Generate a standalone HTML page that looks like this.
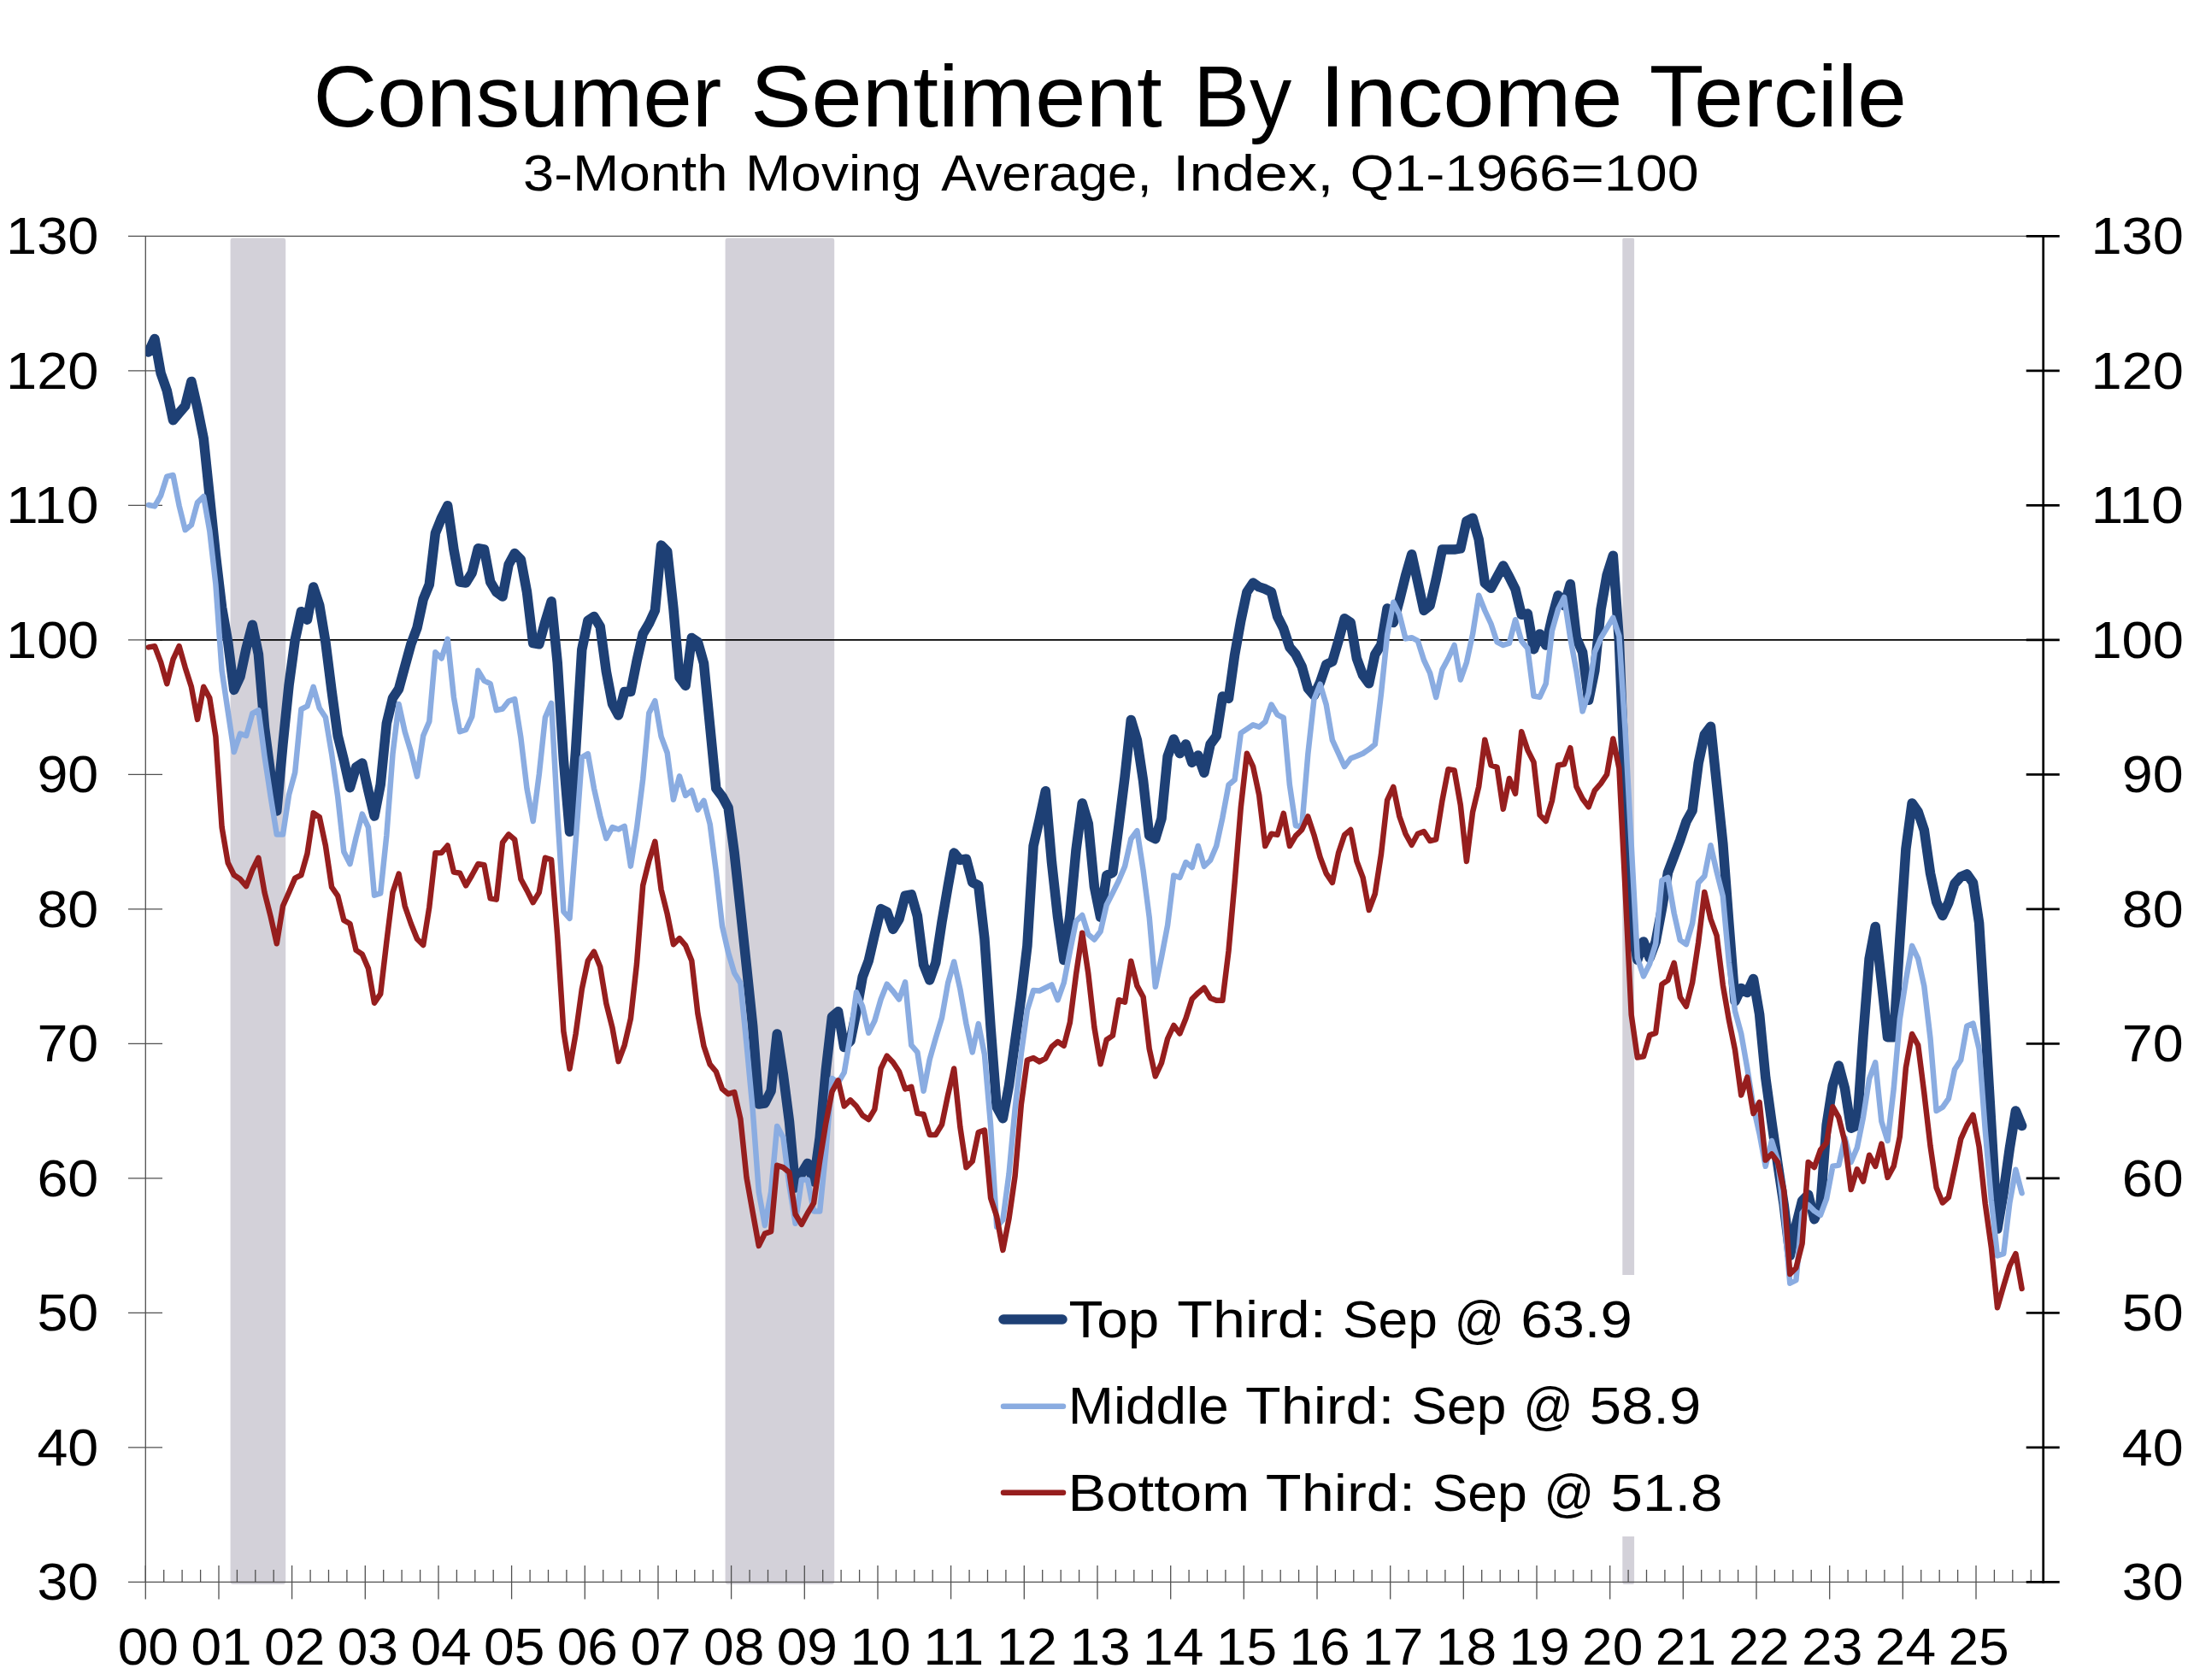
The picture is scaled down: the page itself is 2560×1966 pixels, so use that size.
<!DOCTYPE html><html><head><meta charset="utf-8"><title>Consumer Sentiment By Income Tercile</title><style>html,body{margin:0;padding:0;background:#fff}svg{display:block}text{font-family:"Liberation Sans",sans-serif;fill:#000}</style></head><body>
<svg width="2560" height="1966" viewBox="0 0 2560 1966">
<rect width="2560" height="1966" fill="#fff"/>
<rect x="269.6" y="278.5" width="64.6" height="1575.5" rx="3" fill="#d3d1d9"/>
<rect x="848.6" y="278.5" width="127.6" height="1575.5" rx="3" fill="#d3d1d9"/>
<rect x="1898.3" y="278.5" width="13.8" height="1575.5" rx="2" fill="#d3d1d9"/>
<g stroke="#505050" stroke-width="1.3" fill="none">
<line x1="150" y1="276.4" x2="2372" y2="276.4"/>
<line x1="170.3" y1="276.4" x2="170.3" y2="1851.4"/>
<line x1="150" y1="1851.4" x2="2390.7" y2="1851.4"/>
<line x1="150" y1="1693.9" x2="190" y2="1693.9"/>
<line x1="150" y1="1536.4" x2="190" y2="1536.4"/>
<line x1="150" y1="1378.9" x2="190" y2="1378.9"/>
<line x1="150" y1="1221.4" x2="190" y2="1221.4"/>
<line x1="150" y1="1063.9" x2="190" y2="1063.9"/>
<line x1="150" y1="906.4" x2="190" y2="906.4"/>
<line x1="150" y1="748.9" x2="190" y2="748.9"/>
<line x1="150" y1="591.4" x2="190" y2="591.4"/>
<line x1="150" y1="433.9" x2="190" y2="433.9"/>
<line x1="170.3" y1="1831.9" x2="170.3" y2="1871.4"/>
<line x1="191.7" y1="1836.9" x2="191.7" y2="1851.4"/>
<line x1="213.1" y1="1836.9" x2="213.1" y2="1851.4"/>
<line x1="234.6" y1="1836.9" x2="234.6" y2="1851.4"/>
<line x1="256.0" y1="1831.9" x2="256.0" y2="1871.4"/>
<line x1="277.4" y1="1836.9" x2="277.4" y2="1851.4"/>
<line x1="298.8" y1="1836.9" x2="298.8" y2="1851.4"/>
<line x1="320.2" y1="1836.9" x2="320.2" y2="1851.4"/>
<line x1="341.6" y1="1831.9" x2="341.6" y2="1871.4"/>
<line x1="363.1" y1="1836.9" x2="363.1" y2="1851.4"/>
<line x1="384.5" y1="1836.9" x2="384.5" y2="1851.4"/>
<line x1="405.9" y1="1836.9" x2="405.9" y2="1851.4"/>
<line x1="427.3" y1="1831.9" x2="427.3" y2="1871.4"/>
<line x1="448.7" y1="1836.9" x2="448.7" y2="1851.4"/>
<line x1="470.1" y1="1836.9" x2="470.1" y2="1851.4"/>
<line x1="491.6" y1="1836.9" x2="491.6" y2="1851.4"/>
<line x1="513.0" y1="1831.9" x2="513.0" y2="1871.4"/>
<line x1="534.4" y1="1836.9" x2="534.4" y2="1851.4"/>
<line x1="555.8" y1="1836.9" x2="555.8" y2="1851.4"/>
<line x1="577.2" y1="1836.9" x2="577.2" y2="1851.4"/>
<line x1="598.6" y1="1831.9" x2="598.6" y2="1871.4"/>
<line x1="620.1" y1="1836.9" x2="620.1" y2="1851.4"/>
<line x1="641.5" y1="1836.9" x2="641.5" y2="1851.4"/>
<line x1="662.9" y1="1836.9" x2="662.9" y2="1851.4"/>
<line x1="684.3" y1="1831.9" x2="684.3" y2="1871.4"/>
<line x1="705.7" y1="1836.9" x2="705.7" y2="1851.4"/>
<line x1="727.1" y1="1836.9" x2="727.1" y2="1851.4"/>
<line x1="748.6" y1="1836.9" x2="748.6" y2="1851.4"/>
<line x1="770.0" y1="1831.9" x2="770.0" y2="1871.4"/>
<line x1="791.4" y1="1836.9" x2="791.4" y2="1851.4"/>
<line x1="812.8" y1="1836.9" x2="812.8" y2="1851.4"/>
<line x1="834.2" y1="1836.9" x2="834.2" y2="1851.4"/>
<line x1="855.6" y1="1831.9" x2="855.6" y2="1871.4"/>
<line x1="877.1" y1="1836.9" x2="877.1" y2="1851.4"/>
<line x1="898.5" y1="1836.9" x2="898.5" y2="1851.4"/>
<line x1="919.9" y1="1836.9" x2="919.9" y2="1851.4"/>
<line x1="941.3" y1="1831.9" x2="941.3" y2="1871.4"/>
<line x1="962.7" y1="1836.9" x2="962.7" y2="1851.4"/>
<line x1="984.1" y1="1836.9" x2="984.1" y2="1851.4"/>
<line x1="1005.6" y1="1836.9" x2="1005.6" y2="1851.4"/>
<line x1="1027.0" y1="1831.9" x2="1027.0" y2="1871.4"/>
<line x1="1048.4" y1="1836.9" x2="1048.4" y2="1851.4"/>
<line x1="1069.8" y1="1836.9" x2="1069.8" y2="1851.4"/>
<line x1="1091.2" y1="1836.9" x2="1091.2" y2="1851.4"/>
<line x1="1112.6" y1="1831.9" x2="1112.6" y2="1871.4"/>
<line x1="1134.1" y1="1836.9" x2="1134.1" y2="1851.4"/>
<line x1="1155.5" y1="1836.9" x2="1155.5" y2="1851.4"/>
<line x1="1176.9" y1="1836.9" x2="1176.9" y2="1851.4"/>
<line x1="1198.3" y1="1831.9" x2="1198.3" y2="1871.4"/>
<line x1="1219.7" y1="1836.9" x2="1219.7" y2="1851.4"/>
<line x1="1241.2" y1="1836.9" x2="1241.2" y2="1851.4"/>
<line x1="1262.6" y1="1836.9" x2="1262.6" y2="1851.4"/>
<line x1="1284.0" y1="1831.9" x2="1284.0" y2="1871.4"/>
<line x1="1305.4" y1="1836.9" x2="1305.4" y2="1851.4"/>
<line x1="1326.8" y1="1836.9" x2="1326.8" y2="1851.4"/>
<line x1="1348.2" y1="1836.9" x2="1348.2" y2="1851.4"/>
<line x1="1369.7" y1="1831.9" x2="1369.7" y2="1871.4"/>
<line x1="1391.1" y1="1836.9" x2="1391.1" y2="1851.4"/>
<line x1="1412.5" y1="1836.9" x2="1412.5" y2="1851.4"/>
<line x1="1433.9" y1="1836.9" x2="1433.9" y2="1851.4"/>
<line x1="1455.3" y1="1831.9" x2="1455.3" y2="1871.4"/>
<line x1="1476.7" y1="1836.9" x2="1476.7" y2="1851.4"/>
<line x1="1498.2" y1="1836.9" x2="1498.2" y2="1851.4"/>
<line x1="1519.6" y1="1836.9" x2="1519.6" y2="1851.4"/>
<line x1="1541.0" y1="1831.9" x2="1541.0" y2="1871.4"/>
<line x1="1562.4" y1="1836.9" x2="1562.4" y2="1851.4"/>
<line x1="1583.8" y1="1836.9" x2="1583.8" y2="1851.4"/>
<line x1="1605.2" y1="1836.9" x2="1605.2" y2="1851.4"/>
<line x1="1626.7" y1="1831.9" x2="1626.7" y2="1871.4"/>
<line x1="1648.1" y1="1836.9" x2="1648.1" y2="1851.4"/>
<line x1="1669.5" y1="1836.9" x2="1669.5" y2="1851.4"/>
<line x1="1690.9" y1="1836.9" x2="1690.9" y2="1851.4"/>
<line x1="1712.3" y1="1831.9" x2="1712.3" y2="1871.4"/>
<line x1="1733.7" y1="1836.9" x2="1733.7" y2="1851.4"/>
<line x1="1755.2" y1="1836.9" x2="1755.2" y2="1851.4"/>
<line x1="1776.6" y1="1836.9" x2="1776.6" y2="1851.4"/>
<line x1="1798.0" y1="1831.9" x2="1798.0" y2="1871.4"/>
<line x1="1819.4" y1="1836.9" x2="1819.4" y2="1851.4"/>
<line x1="1840.8" y1="1836.9" x2="1840.8" y2="1851.4"/>
<line x1="1862.2" y1="1836.9" x2="1862.2" y2="1851.4"/>
<line x1="1883.7" y1="1831.9" x2="1883.7" y2="1871.4"/>
<line x1="1905.1" y1="1836.9" x2="1905.1" y2="1851.4"/>
<line x1="1926.5" y1="1836.9" x2="1926.5" y2="1851.4"/>
<line x1="1947.9" y1="1836.9" x2="1947.9" y2="1851.4"/>
<line x1="1969.3" y1="1831.9" x2="1969.3" y2="1871.4"/>
<line x1="1990.7" y1="1836.9" x2="1990.7" y2="1851.4"/>
<line x1="2012.2" y1="1836.9" x2="2012.2" y2="1851.4"/>
<line x1="2033.6" y1="1836.9" x2="2033.6" y2="1851.4"/>
<line x1="2055.0" y1="1831.9" x2="2055.0" y2="1871.4"/>
<line x1="2076.4" y1="1836.9" x2="2076.4" y2="1851.4"/>
<line x1="2097.8" y1="1836.9" x2="2097.8" y2="1851.4"/>
<line x1="2119.2" y1="1836.9" x2="2119.2" y2="1851.4"/>
<line x1="2140.7" y1="1831.9" x2="2140.7" y2="1871.4"/>
<line x1="2162.1" y1="1836.9" x2="2162.1" y2="1851.4"/>
<line x1="2183.5" y1="1836.9" x2="2183.5" y2="1851.4"/>
<line x1="2204.9" y1="1836.9" x2="2204.9" y2="1851.4"/>
<line x1="2226.3" y1="1831.9" x2="2226.3" y2="1871.4"/>
<line x1="2247.7" y1="1836.9" x2="2247.7" y2="1851.4"/>
<line x1="2269.2" y1="1836.9" x2="2269.2" y2="1851.4"/>
<line x1="2290.6" y1="1836.9" x2="2290.6" y2="1851.4"/>
<line x1="2312.0" y1="1831.9" x2="2312.0" y2="1871.4"/>
<line x1="2333.4" y1="1836.9" x2="2333.4" y2="1851.4"/>
<line x1="2354.8" y1="1836.9" x2="2354.8" y2="1851.4"/>
<line x1="2376.3" y1="1836.9" x2="2376.3" y2="1851.4"/>
</g>
<line x1="170.3" y1="748.9" x2="2390.7" y2="748.9" stroke="#000" stroke-width="1.6"/>
<clipPath id="cp"><rect x="170.3" y="276.4" width="2220.3999999999996" height="1575.0"/></clipPath>
<g clip-path="url(#cp)" fill="none" stroke-linejoin="round" stroke-linecap="round">
<path d="M173.9 411.9 L181.0 396.4 L188.2 436.9 L195.3 457.1 L202.5 491.7 L209.6 483.3 L216.7 475.0 L223.9 446.4 L231.0 477.4 L238.2 513.1 L245.3 581.4 L252.4 650.0 L259.6 711.0 L266.7 751.4 L273.8 807.4 L281.0 791.9 L288.1 758.6 L295.3 731.2 L302.4 765.7 L309.5 851.4 L316.7 906.2 L323.8 949.0 L331.0 870.5 L338.1 801.4 L345.2 749.0 L352.4 715.7 L359.5 725.2 L366.7 687.0 L373.8 708.6 L380.9 751.4 L388.1 808.6 L395.2 861.0 L402.3 889.5 L409.5 921.7 L416.6 897.9 L423.8 893.1 L430.9 925.2 L438.0 955.0 L445.2 918.1 L452.3 846.7 L459.5 816.9 L466.6 806.2 L473.7 780.0 L480.9 753.8 L488.0 734.8 L495.2 701.4 L502.3 684.0 L509.4 623.8 L516.6 606.0 L523.7 591.7 L530.9 642.9 L538.0 681.0 L545.1 682.1 L552.3 670.2 L559.4 641.7 L566.5 642.9 L573.7 681.0 L580.8 692.9 L588.0 698.1 L595.1 660.7 L602.2 647.6 L609.4 654.8 L616.5 692.9 L623.7 752.6 L630.8 753.8 L637.9 727.6 L645.1 703.8 L652.2 775.2 L659.4 889.5 L666.5 973.3 L673.6 878.1 L680.8 760.2 L687.9 726.2 L695.0 721.4 L702.2 733.3 L709.3 785.7 L716.5 823.8 L723.6 836.9 L730.7 809.5 L737.9 809.5 L745.0 773.8 L752.2 741.7 L759.3 729.8 L766.4 714.3 L773.6 638.1 L780.7 645.2 L787.9 711.9 L795.0 792.9 L802.1 802.4 L809.3 746.4 L816.4 751.2 L823.5 776.2 L830.7 850.0 L837.8 922.6 L845.0 932.1 L852.1 945.2 L859.2 998.1 L866.4 1064.8 L873.5 1131.4 L880.7 1200.5 L887.8 1292.1 L894.9 1291.0 L902.1 1276.7 L909.2 1210.0 L916.4 1257.6 L923.5 1312.4 L930.6 1390.0 L937.8 1373.3 L944.9 1361.4 L952.1 1382.9 L959.2 1331.0 L966.3 1252.4 L973.5 1189.8 L980.6 1183.8 L987.7 1225.5 L994.9 1218.3 L1002.0 1183.8 L1009.2 1143.3 L1016.3 1124.3 L1023.4 1093.3 L1030.6 1063.6 L1037.7 1067.1 L1044.9 1087.4 L1052.0 1075.5 L1059.1 1048.1 L1066.3 1046.9 L1073.4 1071.9 L1080.6 1129.0 L1087.7 1146.9 L1094.8 1126.7 L1102.0 1079.0 L1109.1 1037.4 L1116.2 998.1 L1123.4 1006.4 L1130.5 1005.2 L1137.7 1032.6 L1144.8 1036.2 L1151.9 1098.1 L1159.1 1202.9 L1166.2 1295.6 L1173.4 1308.7 L1180.5 1270.5 L1187.6 1219.0 L1194.8 1166.7 L1201.9 1106.9 L1209.1 990.0 L1216.2 959.0 L1223.3 925.7 L1230.5 1009.0 L1237.6 1073.3 L1244.8 1123.6 L1251.9 1071.0 L1259.0 994.8 L1266.2 940.0 L1273.3 963.8 L1280.4 1037.6 L1287.6 1073.3 L1294.7 1024.5 L1301.9 1021.0 L1309.0 966.2 L1316.1 909.0 L1323.3 842.4 L1330.4 866.2 L1337.6 913.8 L1344.7 978.1 L1351.8 981.7 L1359.0 957.9 L1366.1 885.2 L1373.3 865.0 L1380.4 881.7 L1387.5 871.0 L1394.7 892.4 L1401.8 884.0 L1408.9 904.3 L1416.1 871.0 L1423.2 861.4 L1430.4 815.0 L1437.5 817.4 L1444.6 766.4 L1451.8 726.2 L1458.9 692.9 L1466.1 682.1 L1473.2 686.9 L1480.3 689.3 L1487.5 692.9 L1494.6 721.4 L1501.8 735.7 L1508.9 757.5 L1516.0 765.8 L1523.2 780.1 L1530.3 805.5 L1537.4 813.8 L1544.6 798.3 L1551.7 777.7 L1558.9 774.2 L1566.0 749.8 L1573.1 723.8 L1580.3 728.6 L1587.4 770.6 L1594.6 790.2 L1601.7 799.8 L1608.8 765.8 L1616.0 754.5 L1623.1 711.9 L1630.3 728.6 L1637.4 702.4 L1644.5 673.8 L1651.7 648.8 L1658.8 681.0 L1666.0 714.4 L1673.1 708.5 L1680.2 678.1 L1687.4 643.1 L1694.5 643.1 L1701.6 643.1 L1708.8 641.9 L1715.9 609.8 L1723.1 606.2 L1730.2 631.2 L1737.3 682.4 L1744.5 688.3 L1751.6 675.2 L1758.8 662.1 L1765.9 675.2 L1773.0 689.5 L1780.2 719.3 L1787.3 718.1 L1794.5 759.8 L1801.6 741.9 L1808.7 755.0 L1815.9 722.9 L1823.0 696.7 L1830.1 708.6 L1837.3 683.6 L1844.4 746.7 L1851.6 763.3 L1858.7 819.3 L1865.8 784.8 L1873.0 713.3 L1880.1 672.9 L1887.3 650.2 L1894.4 750.0 L1901.5 925.0 L1908.7 1082.9 L1915.8 1123.3 L1923.0 1101.9 L1930.1 1121.0 L1937.2 1101.9 L1944.4 1063.8 L1951.5 1021.0 L1958.7 1001.9 L1965.8 982.9 L1972.9 961.6 L1980.1 948.4 L1987.2 893.0 L1994.3 859.8 L2001.5 850.2 L2008.6 918.0 L2015.8 986.8 L2022.9 1081.0 L2030.0 1171.7 L2037.2 1156.5 L2044.3 1161.6 L2051.5 1145.4 L2058.6 1186.9 L2065.7 1260.7 L2072.9 1313.1 L2080.0 1362.4 L2087.2 1410.0 L2094.3 1469.5 L2101.4 1433.8 L2108.6 1405.2 L2115.7 1398.1 L2122.8 1426.7 L2130.0 1410.0 L2137.1 1316.7 L2144.3 1270.2 L2151.4 1247.0 L2158.5 1273.8 L2165.7 1320.2 L2172.8 1317.0 L2180.0 1212.0 L2187.1 1122.0 L2194.2 1084.4 L2201.4 1148.6 L2208.5 1213.8 L2215.7 1213.8 L2222.8 1100.0 L2229.9 993.6 L2237.1 939.9 L2244.2 950.1 L2251.3 971.3 L2258.5 1021.9 L2265.6 1055.3 L2272.8 1071.5 L2279.9 1056.3 L2287.0 1034.1 L2294.2 1026.0 L2301.3 1022.9 L2308.5 1033.0 L2315.6 1080.0 L2322.7 1196.0 L2329.9 1318.0 L2337.0 1438.0 L2344.2 1395.0 L2351.3 1344.0 L2358.4 1300.0 L2365.6 1317.5" stroke="#1e4075" stroke-width="11.5"/>
<path d="M173.9 591.0 L181.0 592.4 L188.2 579.8 L195.3 557.6 L202.5 556.0 L209.6 591.7 L216.7 620.2 L223.9 614.3 L231.0 588.1 L238.2 581.0 L245.3 621.4 L252.4 684.0 L259.6 784.8 L266.7 832.4 L273.8 880.0 L281.0 858.6 L288.1 861.0 L295.3 834.8 L302.4 831.2 L309.5 884.8 L316.7 932.4 L323.8 976.4 L331.0 976.4 L338.1 930.0 L345.2 903.8 L352.4 830.0 L359.5 826.4 L366.7 803.8 L373.8 828.8 L380.9 839.5 L388.1 882.4 L395.2 932.4 L402.3 996.7 L409.5 1011.0 L416.6 980.0 L423.8 952.6 L430.9 968.1 L438.0 1047.7 L445.2 1045.4 L452.3 977.6 L459.5 882.4 L466.6 824.0 L473.7 856.2 L480.9 880.0 L488.0 908.6 L495.2 861.0 L502.3 844.3 L509.4 763.3 L516.6 770.5 L523.7 747.9 L530.9 815.7 L538.0 856.2 L545.1 853.8 L552.3 838.3 L559.4 784.8 L566.5 796.7 L573.7 800.2 L580.8 831.2 L588.0 829.5 L595.1 820.5 L602.2 818.1 L609.4 863.3 L616.5 922.9 L623.7 961.0 L630.8 906.2 L637.9 839.5 L645.1 822.9 L652.2 951.4 L659.4 1066.8 L666.5 1074.8 L673.6 985.2 L680.8 886.4 L687.9 882.1 L695.0 922.6 L702.2 954.8 L709.3 981.2 L716.5 968.1 L723.6 970.5 L730.7 966.9 L737.9 1013.6 L745.0 969.3 L752.2 911.9 L759.3 834.5 L766.4 820.2 L773.6 861.9 L780.7 881.0 L787.9 935.7 L795.0 908.3 L802.1 931.0 L809.3 925.0 L816.4 947.6 L823.5 936.9 L830.7 964.5 L837.8 1019.5 L845.0 1083.8 L852.1 1114.8 L859.2 1138.6 L866.4 1150.5 L873.5 1221.9 L880.7 1298.8 L887.8 1394.8 L894.9 1434.0 L902.1 1394.8 L909.2 1317.9 L916.4 1331.0 L923.5 1387.6 L930.6 1431.7 L937.8 1380.5 L944.9 1380.5 L952.1 1417.4 L959.2 1417.4 L966.3 1347.1 L973.5 1261.9 L980.6 1267.1 L987.7 1255.2 L994.9 1212.4 L1002.0 1161.2 L1009.2 1177.9 L1016.3 1208.8 L1023.4 1194.5 L1030.6 1169.5 L1037.7 1151.7 L1044.9 1160.0 L1052.0 1169.5 L1059.1 1149.3 L1066.3 1223.1 L1073.4 1231.4 L1080.6 1276.7 L1087.7 1239.8 L1094.8 1214.8 L1102.0 1191.0 L1109.1 1150.5 L1116.2 1125.5 L1123.4 1157.6 L1130.5 1198.1 L1137.7 1231.4 L1144.8 1198.1 L1151.9 1233.8 L1159.1 1317.1 L1166.2 1435.7 L1173.4 1427.4 L1180.5 1373.8 L1187.6 1297.6 L1194.8 1233.3 L1201.9 1182.1 L1209.1 1159.0 L1216.2 1159.5 L1223.3 1156.0 L1230.5 1152.4 L1237.6 1170.2 L1244.8 1150.0 L1251.9 1112.9 L1259.0 1078.1 L1266.2 1071.0 L1273.3 1093.6 L1280.4 1099.5 L1287.6 1090.0 L1294.7 1059.0 L1301.9 1044.8 L1309.0 1030.5 L1316.1 1013.8 L1323.3 981.7 L1330.4 972.1 L1337.6 1018.6 L1344.7 1073.3 L1351.8 1154.8 L1359.0 1120.0 L1366.1 1082.9 L1373.3 1024.5 L1380.4 1026.9 L1387.5 1009.0 L1394.7 1015.0 L1401.8 990.0 L1408.9 1013.8 L1416.1 1006.7 L1423.2 990.0 L1430.4 956.7 L1437.5 918.6 L1444.6 912.6 L1451.8 857.9 L1458.9 853.1 L1466.1 848.3 L1473.2 850.7 L1480.3 844.8 L1487.5 824.5 L1494.6 836.4 L1501.8 840.0 L1508.9 918.6 L1516.0 966.2 L1523.2 967.4 L1530.3 882.9 L1537.4 818.6 L1544.6 800.7 L1551.7 824.5 L1558.9 866.2 L1566.0 881.7 L1573.1 897.1 L1580.3 887.6 L1587.4 884.8 L1594.6 881.7 L1601.7 876.9 L1608.8 871.0 L1616.0 811.4 L1623.1 742.9 L1630.3 704.8 L1637.4 719.0 L1644.5 747.4 L1651.7 746.2 L1658.8 749.8 L1666.0 772.5 L1673.1 787.6 L1680.2 816.0 L1687.4 783.6 L1694.5 770.5 L1701.6 755.0 L1708.8 795.5 L1715.9 775.2 L1723.1 741.9 L1730.2 696.7 L1737.3 714.5 L1744.5 730.0 L1751.6 751.4 L1758.8 755.0 L1765.9 752.6 L1773.0 725.2 L1780.2 750.2 L1787.3 758.6 L1794.5 814.5 L1801.6 815.7 L1808.7 800.2 L1815.9 738.3 L1823.0 713.3 L1830.1 699.0 L1837.3 746.7 L1844.4 784.8 L1851.6 832.4 L1858.7 811.0 L1865.8 763.3 L1873.0 746.7 L1880.1 734.8 L1887.3 722.9 L1894.4 744.3 L1901.5 853.8 L1908.7 988.6 L1915.8 1121.0 L1923.0 1142.4 L1930.1 1128.1 L1937.2 1104.3 L1944.4 1030.5 L1951.5 1026.9 L1958.7 1068.6 L1965.8 1100.2 L1972.9 1105.1 L1980.1 1080.5 L1987.2 1033.0 L1994.3 1025.3 L2001.5 989.2 L2008.6 1020.2 L2015.8 1048.7 L2022.9 1126.8 L2030.0 1183.2 L2037.2 1209.5 L2044.3 1250.0 L2051.5 1295.2 L2058.6 1326.7 L2065.7 1364.8 L2072.9 1335.0 L2080.0 1357.6 L2087.2 1421.9 L2094.3 1501.7 L2101.4 1498.1 L2108.6 1419.5 L2115.7 1410.0 L2122.8 1417.1 L2130.0 1421.9 L2137.1 1402.9 L2144.3 1364.8 L2151.4 1363.6 L2158.5 1331.4 L2165.7 1360.0 L2172.8 1343.3 L2180.0 1307.6 L2187.1 1262.4 L2194.2 1243.3 L2201.4 1312.4 L2208.5 1335.0 L2215.7 1274.0 L2222.8 1193.0 L2229.9 1146.9 L2237.1 1106.9 L2244.2 1121.9 L2251.3 1154.0 L2258.5 1215.0 L2265.6 1300.0 L2272.8 1295.8 L2279.9 1285.7 L2287.0 1251.5 L2294.2 1240.5 L2301.3 1200.8 L2308.5 1197.6 L2315.6 1227.5 L2322.7 1322.0 L2329.9 1405.0 L2337.0 1469.5 L2344.2 1467.1 L2351.3 1408.0 L2358.4 1368.8 L2365.6 1396.3" stroke="#8aace1" stroke-width="6.5"/>
<path d="M173.9 757.4 L181.0 756.2 L188.2 775.2 L195.3 800.2 L202.5 771.7 L209.6 756.2 L216.7 781.2 L223.9 803.8 L231.0 841.9 L238.2 803.8 L245.3 816.9 L252.4 862.1 L259.6 968.1 L266.7 1009.8 L273.8 1024.0 L281.0 1028.8 L288.1 1037.1 L295.3 1018.1 L302.4 1003.8 L309.5 1044.2 L316.7 1072.7 L323.8 1104.3 L331.0 1060.2 L338.1 1044.2 L345.2 1027.6 L352.4 1024.0 L359.5 999.0 L366.7 951.4 L373.8 956.2 L380.9 989.5 L388.1 1038.2 L395.2 1048.3 L402.3 1076.9 L409.5 1081.0 L416.6 1111.9 L423.8 1116.7 L430.9 1133.3 L438.0 1173.8 L445.2 1163.1 L452.3 1102.4 L459.5 1044.2 L466.6 1022.7 L473.7 1060.2 L480.9 1081.0 L488.0 1098.8 L495.2 1106.0 L502.3 1061.4 L509.4 998.3 L516.6 997.9 L523.7 989.5 L530.9 1020.5 L538.0 1021.7 L545.1 1036.4 L552.3 1024.0 L559.4 1011.0 L566.5 1012.1 L573.7 1051.4 L580.8 1052.6 L588.0 986.0 L595.1 976.4 L602.2 982.4 L609.4 1028.8 L616.5 1041.9 L623.7 1056.2 L630.8 1044.3 L637.9 1003.8 L645.1 1006.2 L652.2 1095.2 L659.4 1207.1 L666.5 1250.8 L673.6 1210.0 L680.8 1157.6 L687.9 1124.3 L695.0 1113.6 L702.2 1131.4 L709.3 1174.3 L716.5 1202.9 L723.6 1242.1 L730.7 1223.1 L737.9 1192.1 L745.0 1127.9 L752.2 1036.2 L759.3 1007.6 L766.4 984.8 L773.6 1041.0 L780.7 1069.5 L787.9 1105.2 L795.0 1098.1 L802.1 1106.4 L809.3 1124.3 L816.4 1186.2 L823.5 1224.3 L830.7 1245.7 L837.8 1254.0 L845.0 1274.3 L852.1 1280.2 L859.2 1278.0 L866.4 1309.5 L873.5 1378.1 L880.7 1418.6 L887.8 1457.9 L894.9 1443.6 L902.1 1441.2 L909.2 1363.8 L916.4 1366.2 L923.5 1372.1 L930.6 1421.0 L937.8 1432.9 L944.9 1419.8 L952.1 1407.9 L959.2 1358.3 L966.3 1314.3 L973.5 1277.4 L980.6 1264.3 L987.7 1294.5 L994.9 1287.4 L1002.0 1294.5 L1009.2 1305.2 L1016.3 1310.0 L1023.4 1298.1 L1030.6 1250.5 L1037.7 1235.7 L1044.9 1243.3 L1052.0 1254.0 L1059.1 1274.3 L1066.3 1271.9 L1073.4 1302.9 L1080.6 1304.0 L1087.7 1327.9 L1094.8 1327.9 L1102.0 1316.0 L1109.1 1281.4 L1116.2 1250.5 L1123.4 1319.0 L1130.5 1366.2 L1137.7 1359.0 L1144.8 1325.0 L1151.9 1322.6 L1159.1 1401.9 L1166.2 1423.6 L1173.4 1462.9 L1180.5 1426.2 L1187.6 1376.2 L1194.8 1292.9 L1201.9 1240.5 L1209.1 1238.1 L1216.2 1242.4 L1223.3 1238.6 L1230.5 1225.0 L1237.6 1219.0 L1244.8 1223.8 L1251.9 1196.4 L1259.0 1140.5 L1266.2 1091.7 L1273.3 1139.3 L1280.4 1202.4 L1287.6 1245.2 L1294.7 1216.7 L1301.9 1211.9 L1309.0 1170.2 L1316.1 1172.6 L1323.3 1124.8 L1330.4 1153.6 L1337.6 1166.7 L1344.7 1227.4 L1351.8 1259.5 L1359.0 1244.0 L1366.1 1215.5 L1373.3 1200.0 L1380.4 1209.5 L1387.5 1191.7 L1394.7 1169.0 L1401.8 1161.9 L1408.9 1156.0 L1416.1 1167.9 L1423.2 1170.7 L1430.4 1170.7 L1437.5 1112.9 L1444.6 1032.9 L1451.8 944.8 L1458.9 881.7 L1466.1 897.1 L1473.2 930.5 L1480.3 990.0 L1487.5 975.7 L1494.6 976.9 L1501.8 951.9 L1508.9 990.0 L1516.0 978.1 L1523.2 971.0 L1530.3 955.5 L1537.4 976.9 L1544.6 1003.1 L1551.7 1022.1 L1558.9 1032.9 L1566.0 998.3 L1573.1 976.9 L1580.3 971.0 L1587.4 1007.9 L1594.6 1026.9 L1601.7 1065.0 L1608.8 1046.0 L1616.0 999.5 L1623.1 936.4 L1630.3 921.0 L1637.4 955.5 L1644.5 975.7 L1651.7 988.8 L1658.8 975.7 L1666.0 973.1 L1673.1 984.0 L1680.2 982.3 L1687.4 937.1 L1694.5 900.2 L1701.6 901.4 L1708.8 941.9 L1715.9 1007.9 L1723.1 950.2 L1730.2 920.5 L1737.3 865.7 L1744.5 895.5 L1751.6 897.9 L1758.8 946.7 L1765.9 911.0 L1773.0 928.8 L1780.2 856.2 L1787.3 877.6 L1794.5 891.9 L1801.6 953.8 L1808.7 961.0 L1815.9 937.1 L1823.0 895.5 L1830.1 894.3 L1837.3 875.2 L1844.4 920.5 L1851.6 934.8 L1858.7 944.3 L1865.8 925.2 L1873.0 916.9 L1880.1 906.2 L1887.3 864.5 L1894.4 899.0 L1901.5 1040.0 L1908.7 1187.6 L1915.8 1237.5 L1923.0 1236.3 L1930.1 1211.3 L1937.2 1208.9 L1944.4 1151.9 L1951.5 1147.1 L1958.7 1126.9 L1965.8 1166.9 L1972.9 1177.8 L1980.1 1149.9 L1987.2 1102.4 L1994.3 1043.9 L2001.5 1075.5 L2008.6 1094.8 L2015.8 1152.7 L2022.9 1193.7 L2030.0 1228.6 L2037.2 1281.5 L2044.3 1260.7 L2051.5 1303.0 L2058.6 1289.9 L2065.7 1357.6 L2072.9 1350.5 L2080.0 1360.0 L2087.2 1393.3 L2094.3 1491.0 L2101.4 1483.8 L2108.6 1455.2 L2115.7 1360.0 L2122.8 1366.0 L2130.0 1345.7 L2137.1 1337.4 L2144.3 1295.2 L2151.4 1307.7 L2158.5 1336.2 L2165.7 1392.1 L2172.8 1368.3 L2180.0 1382.6 L2187.1 1351.7 L2194.2 1364.8 L2201.4 1338.6 L2208.5 1377.9 L2215.7 1364.8 L2222.8 1330.2 L2229.9 1249.3 L2237.1 1210.0 L2244.2 1223.1 L2251.3 1279.0 L2258.5 1341.0 L2265.6 1389.8 L2272.8 1407.5 L2279.9 1401.0 L2287.0 1367.8 L2294.2 1332.8 L2301.3 1317.0 L2308.5 1304.7 L2315.6 1342.0 L2322.7 1408.4 L2329.9 1460.0 L2337.0 1530.2 L2344.2 1505.2 L2351.3 1481.4 L2358.4 1467.1 L2365.6 1508.0" stroke="#961e1e" stroke-width="6.5"/>
</g>
<rect x="1150" y="1492" width="900" height="306" fill="#fff"/>
<g fill="none" stroke-linecap="round">
<line x1="1174" y1="1544" x2="1243" y2="1544" stroke="#1e4075" stroke-width="11.5"/>
<line x1="1174" y1="1645.7" x2="1244" y2="1645.7" stroke="#8aace1" stroke-width="6.5"/>
<line x1="1174" y1="1746.8" x2="1244" y2="1746.8" stroke="#961e1e" stroke-width="6.5"/>
</g>
<text x="366.55" y="147.5" font-size="102.5" text-anchor="start" textLength="477.68" lengthAdjust="spacingAndGlyphs">Consumer</text>
<text x="877.98" y="147.5" font-size="102.5" text-anchor="start" textLength="481.76" lengthAdjust="spacingAndGlyphs">Sentiment</text>
<text x="1396.32" y="147.5" font-size="102.5" text-anchor="start" textLength="114.88" lengthAdjust="spacingAndGlyphs">By</text>
<text x="1544.11" y="147.5" font-size="102.5" text-anchor="start" textLength="354.62" lengthAdjust="spacingAndGlyphs">Income</text>
<text x="1929.87" y="147.5" font-size="102.5" text-anchor="start" textLength="301.21" lengthAdjust="spacingAndGlyphs">Tercile</text>
<text x="611.96" y="223.4" font-size="58.4" text-anchor="start" textLength="239.55" lengthAdjust="spacingAndGlyphs">3-Month</text>
<text x="872.02" y="223.4" font-size="58.4" text-anchor="start" textLength="206.32" lengthAdjust="spacingAndGlyphs">Moving</text>
<text x="1101.3" y="223.4" font-size="58.4" text-anchor="start" textLength="246.39" lengthAdjust="spacingAndGlyphs">Average,</text>
<text x="1372.18" y="223.4" font-size="58.4" text-anchor="start" textLength="188.33" lengthAdjust="spacingAndGlyphs">Index,</text>
<text x="1579.59" y="223.4" font-size="58.4" text-anchor="start" textLength="408.06" lengthAdjust="spacingAndGlyphs">Q1-1966=100</text>
<text x="1250.53" y="1564.8" font-size="61.5" text-anchor="start" textLength="105.78" lengthAdjust="spacingAndGlyphs">Top</text>
<text x="1377.39" y="1564.8" font-size="61.5" text-anchor="start" textLength="174.41" lengthAdjust="spacingAndGlyphs">Third:</text>
<text x="1571.06" y="1564.8" font-size="61.5" text-anchor="start" textLength="110.81" lengthAdjust="spacingAndGlyphs">Sep</text>
<text x="1701.83" y="1564.8" font-size="61.5" text-anchor="start" textLength="58.36" lengthAdjust="spacingAndGlyphs">@</text>
<text x="1779.23" y="1564.8" font-size="61.5" text-anchor="start" textLength="130.62" lengthAdjust="spacingAndGlyphs">63.9</text>
<text x="1249.71" y="1666.2" font-size="61.5" text-anchor="start" textLength="188.08" lengthAdjust="spacingAndGlyphs">Middle</text>
<text x="1457.09" y="1666.2" font-size="61.5" text-anchor="start" textLength="174.41" lengthAdjust="spacingAndGlyphs">Third:</text>
<text x="1651.56" y="1666.2" font-size="61.5" text-anchor="start" textLength="110.81" lengthAdjust="spacingAndGlyphs">Sep</text>
<text x="1782.22" y="1666.2" font-size="61.5" text-anchor="start" textLength="58.48" lengthAdjust="spacingAndGlyphs">@</text>
<text x="1859.73" y="1666.2" font-size="61.5" text-anchor="start" textLength="130.52" lengthAdjust="spacingAndGlyphs">58.9</text>
<text x="1249.44" y="1767.8" font-size="61.5" text-anchor="start" textLength="212.65" lengthAdjust="spacingAndGlyphs">Bottom</text>
<text x="1480.89" y="1767.8" font-size="61.5" text-anchor="start" textLength="175.14" lengthAdjust="spacingAndGlyphs">Third:</text>
<text x="1675.65" y="1767.8" font-size="61.5" text-anchor="start" textLength="111.23" lengthAdjust="spacingAndGlyphs">Sep</text>
<text x="1806.4" y="1767.8" font-size="61.5" text-anchor="start" textLength="58.72" lengthAdjust="spacingAndGlyphs">@</text>
<text x="1884.52" y="1767.8" font-size="61.5" text-anchor="start" textLength="131.04" lengthAdjust="spacingAndGlyphs">51.8</text>
<g stroke="#000" stroke-width="2.7" fill="none">
<line x1="2390.7" y1="275.09999999999997" x2="2390.7" y2="1852.7"/>
<line x1="2370.7" y1="1851.4" x2="2409.7" y2="1851.4"/>
<line x1="2370.7" y1="1693.9" x2="2409.7" y2="1693.9"/>
<line x1="2370.7" y1="1536.4" x2="2409.7" y2="1536.4"/>
<line x1="2370.7" y1="1378.9" x2="2409.7" y2="1378.9"/>
<line x1="2370.7" y1="1221.4" x2="2409.7" y2="1221.4"/>
<line x1="2370.7" y1="1063.9" x2="2409.7" y2="1063.9"/>
<line x1="2370.7" y1="906.4" x2="2409.7" y2="906.4"/>
<line x1="2370.7" y1="748.9" x2="2409.7" y2="748.9"/>
<line x1="2370.7" y1="591.4" x2="2409.7" y2="591.4"/>
<line x1="2370.7" y1="433.9" x2="2409.7" y2="433.9"/>
<line x1="2370.7" y1="276.4" x2="2409.7" y2="276.4"/>
</g>
<text x="43.4" y="1872.1" font-size="60.5" text-anchor="start" textLength="71.8" lengthAdjust="spacingAndGlyphs">30</text>
<text x="2482.8" y="1872.1" font-size="60.5" text-anchor="start" textLength="71.8" lengthAdjust="spacingAndGlyphs">30</text>
<text x="43.4" y="1714.6" font-size="60.5" text-anchor="start" textLength="71.8" lengthAdjust="spacingAndGlyphs">40</text>
<text x="2482.8" y="1714.6" font-size="60.5" text-anchor="start" textLength="71.8" lengthAdjust="spacingAndGlyphs">40</text>
<text x="43.4" y="1557.1" font-size="60.5" text-anchor="start" textLength="71.8" lengthAdjust="spacingAndGlyphs">50</text>
<text x="2482.8" y="1557.1" font-size="60.5" text-anchor="start" textLength="71.8" lengthAdjust="spacingAndGlyphs">50</text>
<text x="43.4" y="1399.6" font-size="60.5" text-anchor="start" textLength="71.8" lengthAdjust="spacingAndGlyphs">60</text>
<text x="2482.8" y="1399.6" font-size="60.5" text-anchor="start" textLength="71.8" lengthAdjust="spacingAndGlyphs">60</text>
<text x="43.4" y="1242.1" font-size="60.5" text-anchor="start" textLength="71.8" lengthAdjust="spacingAndGlyphs">70</text>
<text x="2482.8" y="1242.1" font-size="60.5" text-anchor="start" textLength="71.8" lengthAdjust="spacingAndGlyphs">70</text>
<text x="43.4" y="1084.6" font-size="60.5" text-anchor="start" textLength="71.8" lengthAdjust="spacingAndGlyphs">80</text>
<text x="2482.8" y="1084.6" font-size="60.5" text-anchor="start" textLength="71.8" lengthAdjust="spacingAndGlyphs">80</text>
<text x="43.4" y="927.1" font-size="60.5" text-anchor="start" textLength="71.8" lengthAdjust="spacingAndGlyphs">90</text>
<text x="2482.8" y="927.1" font-size="60.5" text-anchor="start" textLength="71.8" lengthAdjust="spacingAndGlyphs">90</text>
<text x="7.0" y="769.6" font-size="60.5" text-anchor="start" textLength="108.5" lengthAdjust="spacingAndGlyphs">100</text>
<text x="2446.4" y="769.6" font-size="60.5" text-anchor="start" textLength="108.5" lengthAdjust="spacingAndGlyphs">100</text>
<text x="7.0" y="612.1" font-size="60.5" text-anchor="start" textLength="108.5" lengthAdjust="spacingAndGlyphs">110</text>
<text x="2446.4" y="612.1" font-size="60.5" text-anchor="start" textLength="108.5" lengthAdjust="spacingAndGlyphs">110</text>
<text x="7.0" y="454.6" font-size="60.5" text-anchor="start" textLength="108.5" lengthAdjust="spacingAndGlyphs">120</text>
<text x="2446.4" y="454.6" font-size="60.5" text-anchor="start" textLength="108.5" lengthAdjust="spacingAndGlyphs">120</text>
<text x="7.0" y="297.1" font-size="60.5" text-anchor="start" textLength="108.5" lengthAdjust="spacingAndGlyphs">130</text>
<text x="2446.4" y="297.1" font-size="60.5" text-anchor="start" textLength="108.5" lengthAdjust="spacingAndGlyphs">130</text>
<text x="137.7" y="1948.2" font-size="60.5" text-anchor="start" textLength="71.3" lengthAdjust="spacingAndGlyphs">00</text>
<text x="223.4" y="1948.2" font-size="60.5" text-anchor="start" textLength="71.3" lengthAdjust="spacingAndGlyphs">01</text>
<text x="309.0" y="1948.2" font-size="60.5" text-anchor="start" textLength="71.3" lengthAdjust="spacingAndGlyphs">02</text>
<text x="394.7" y="1948.2" font-size="60.5" text-anchor="start" textLength="71.3" lengthAdjust="spacingAndGlyphs">03</text>
<text x="480.4" y="1948.2" font-size="60.5" text-anchor="start" textLength="71.3" lengthAdjust="spacingAndGlyphs">04</text>
<text x="566.0" y="1948.2" font-size="60.5" text-anchor="start" textLength="71.3" lengthAdjust="spacingAndGlyphs">05</text>
<text x="651.7" y="1948.2" font-size="60.5" text-anchor="start" textLength="71.3" lengthAdjust="spacingAndGlyphs">06</text>
<text x="737.4" y="1948.2" font-size="60.5" text-anchor="start" textLength="71.3" lengthAdjust="spacingAndGlyphs">07</text>
<text x="823.1" y="1948.2" font-size="60.5" text-anchor="start" textLength="71.3" lengthAdjust="spacingAndGlyphs">08</text>
<text x="908.7" y="1948.2" font-size="60.5" text-anchor="start" textLength="71.3" lengthAdjust="spacingAndGlyphs">09</text>
<text x="994.4" y="1948.2" font-size="60.5" text-anchor="start" textLength="71.3" lengthAdjust="spacingAndGlyphs">10</text>
<text x="1080.1" y="1948.2" font-size="60.5" text-anchor="start" textLength="71.3" lengthAdjust="spacingAndGlyphs">11</text>
<text x="1165.7" y="1948.2" font-size="60.5" text-anchor="start" textLength="71.3" lengthAdjust="spacingAndGlyphs">12</text>
<text x="1251.4" y="1948.2" font-size="60.5" text-anchor="start" textLength="71.3" lengthAdjust="spacingAndGlyphs">13</text>
<text x="1337.1" y="1948.2" font-size="60.5" text-anchor="start" textLength="71.3" lengthAdjust="spacingAndGlyphs">14</text>
<text x="1422.8" y="1948.2" font-size="60.5" text-anchor="start" textLength="71.3" lengthAdjust="spacingAndGlyphs">15</text>
<text x="1508.4" y="1948.2" font-size="60.5" text-anchor="start" textLength="71.3" lengthAdjust="spacingAndGlyphs">16</text>
<text x="1594.1" y="1948.2" font-size="60.5" text-anchor="start" textLength="71.3" lengthAdjust="spacingAndGlyphs">17</text>
<text x="1679.8" y="1948.2" font-size="60.5" text-anchor="start" textLength="71.3" lengthAdjust="spacingAndGlyphs">18</text>
<text x="1765.4" y="1948.2" font-size="60.5" text-anchor="start" textLength="71.3" lengthAdjust="spacingAndGlyphs">19</text>
<text x="1851.1" y="1948.2" font-size="60.5" text-anchor="start" textLength="71.3" lengthAdjust="spacingAndGlyphs">20</text>
<text x="1936.8" y="1948.2" font-size="60.5" text-anchor="start" textLength="71.3" lengthAdjust="spacingAndGlyphs">21</text>
<text x="2022.4" y="1948.2" font-size="60.5" text-anchor="start" textLength="71.3" lengthAdjust="spacingAndGlyphs">22</text>
<text x="2108.1" y="1948.2" font-size="60.5" text-anchor="start" textLength="71.3" lengthAdjust="spacingAndGlyphs">23</text>
<text x="2193.8" y="1948.2" font-size="60.5" text-anchor="start" textLength="71.3" lengthAdjust="spacingAndGlyphs">24</text>
<text x="2279.4" y="1948.2" font-size="60.5" text-anchor="start" textLength="71.3" lengthAdjust="spacingAndGlyphs">25</text>
</svg></body></html>
